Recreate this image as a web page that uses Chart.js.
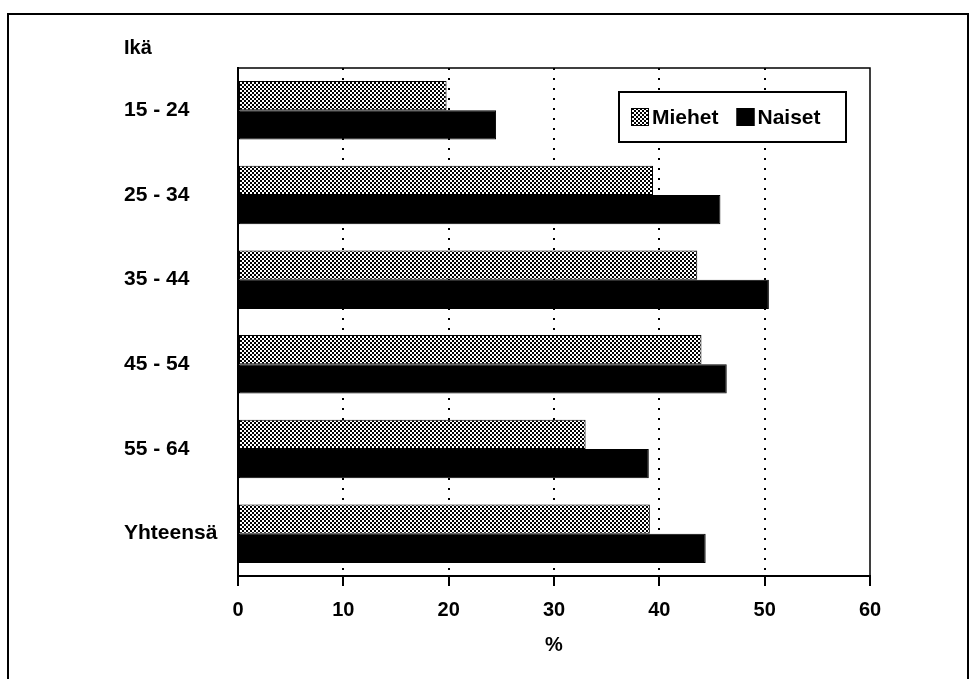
<!DOCTYPE html>
<html>
<head>
<meta charset="utf-8">
<script src="https://cdn.jsdelivr.net/npm/chart.js@4.4.1/dist/chart.umd.min.js"></script>
<style>
  html, body { margin: 0; padding: 0; background: #fff; }
  canvas { display: block; }
</style>
</head>
<body>
<canvas id="chart" width="976" height="679"></canvas>
<script>
// values (%)
const ageGroups = ["15 - 24", "25 - 34", "35 - 44", "45 - 54", "55 - 64", "Yhteensä"];
const seriesNames = ["Miehet", "Naiset"];
const menValues = [19.8, 39.4, 43.6, 44.0, 33.0, 39.1];
const womenValues = [24.5, 45.8, 50.4, 46.4, 39.0, 44.4];
const xTicks = [0, 10, 20, 30, 40, 50, 60];

const canvas = document.getElementById("chart");
const ctx = canvas.getContext("2d");

// coarse black/white checker like the printed grey fill
function makeDither() {
  const tile = document.createElement("canvas");
  tile.width = 4;
  tile.height = 4;
  const g = tile.getContext("2d");
  g.fillStyle = "#fff";
  g.fillRect(0, 0, 4, 4);
  g.fillStyle = "#000";
  g.fillRect(0, 0, 2, 2);
  g.fillRect(2, 2, 2, 2);
  return ctx.createPattern(tile, "repeat");
}
const dither = makeDither();

const FONT = "'Liberation Sans', Arial, Helvetica, sans-serif";
Chart.defaults.font.family = FONT;
Chart.defaults.color = "#000";

// outer frame + plot box (top and right edges)
const frames = {
  id: "frames",
  afterDatasetsDraw(chart) {
    const c = chart.ctx;
    const a = chart.chartArea;
    c.save();
    c.strokeStyle = "#000";
    c.lineWidth = 1.5;
    c.beginPath();
    c.moveTo(a.left, a.top);
    c.lineTo(a.right, a.top);
    c.lineTo(a.right, a.bottom);
    c.stroke();
    c.lineWidth = 2;
    c.strokeRect(8, 14, 960, 700);
    c.restore();
  }
};

// legend box drawn inside the plot, top right
const boxLegend = {
  id: "boxLegend",
  afterDraw(chart) {
    const c = chart.ctx;
    const x = 619, y = 92, w = 227, h = 50;
    c.save();
    c.fillStyle = "#fff";
    c.fillRect(x, y, w, h);
    c.strokeStyle = "#000";
    c.lineWidth = 2;
    c.strokeRect(x, y, w, h);
    c.font = "bold 21px " + FONT;
    c.textBaseline = "middle";
    let cx = x + 12;
    const cy = y + h / 2;
    chart.data.datasets.forEach(ds => {
      c.fillStyle = ds.backgroundColor;
      c.fillRect(cx, cy - 9, 18, 18);
      c.lineWidth = 1;
      c.strokeRect(cx + 0.5, cy - 8.5, 17, 17);
      c.fillStyle = "#000";
      c.fillText(ds.label, cx + 21, cy + 1);
      cx += 21 + c.measureText(ds.label).width + 18;
    });
    c.restore();
  }
};

new Chart(ctx, {
  type: "bar",
  data: {
    labels: ageGroups,
    datasets: [
      {
        label: seriesNames[0],
        data: menValues,
        backgroundColor: dither,
        borderColor: "#000",
        borderWidth: 1,
        borderSkipped: false
      },
      {
        label: seriesNames[1],
        data: womenValues,
        backgroundColor: "#000",
        borderColor: "#000",
        borderWidth: 1,
        borderSkipped: false
      }
    ]
  },
  options: {
    indexAxis: "y",
    responsive: false,
    animation: false,
    categoryPercentage: 0.69,
    barPercentage: 1.0,
    layout: { padding: { left: 124, right: 106, top: 20, bottom: 0 } },
    plugins: {
      legend: { display: false },
      tooltip: { enabled: false },
      title: {
        display: true,
        text: "Ikä",
        align: "start",
        color: "#000",
        font: { size: 20, weight: "bold" },
        padding: { top: 16, bottom: 8 }
      }
    },
    scales: {
      x: {
        type: "linear",
        min: 0,
        max: 60,
        afterBuildTicks: s => { s.ticks = xTicks.map(v => ({ value: v })); },
        afterFit: s => { s.height = 103; },
        grid: {
          color: c => (c.tick && (c.tick.value === 0 || c.tick.value === 60)) ? "rgba(0,0,0,0)" : "#000",
          lineWidth: 2,
          drawTicks: true,
          tickLength: 10,
          tickColor: "#000",
          tickWidth: 2,
          tickBorderDash: []
        },
        border: { display: true, color: "#000", width: 2, dash: [2, 8] },
        ticks: { font: { size: 20, weight: "bold" }, color: "#000", padding: 12, maxRotation: 0 },
        title: {
          display: true,
          text: "%",
          color: "#000",
          font: { size: 20, weight: "bold" },
          padding: { top: 0, bottom: 22 }
        }
      },
      y: {
        type: "category",
        afterFit: s => { s.width = 114; },
        grid: { display: false },
        border: { display: true, color: "#000", width: 2 },
        ticks: { font: { size: 21, weight: "bold" }, color: "#000", crossAlign: "far" }
      }
    }
  },
  plugins: [frames, boxLegend]
});
</script>
</body>
</html>
